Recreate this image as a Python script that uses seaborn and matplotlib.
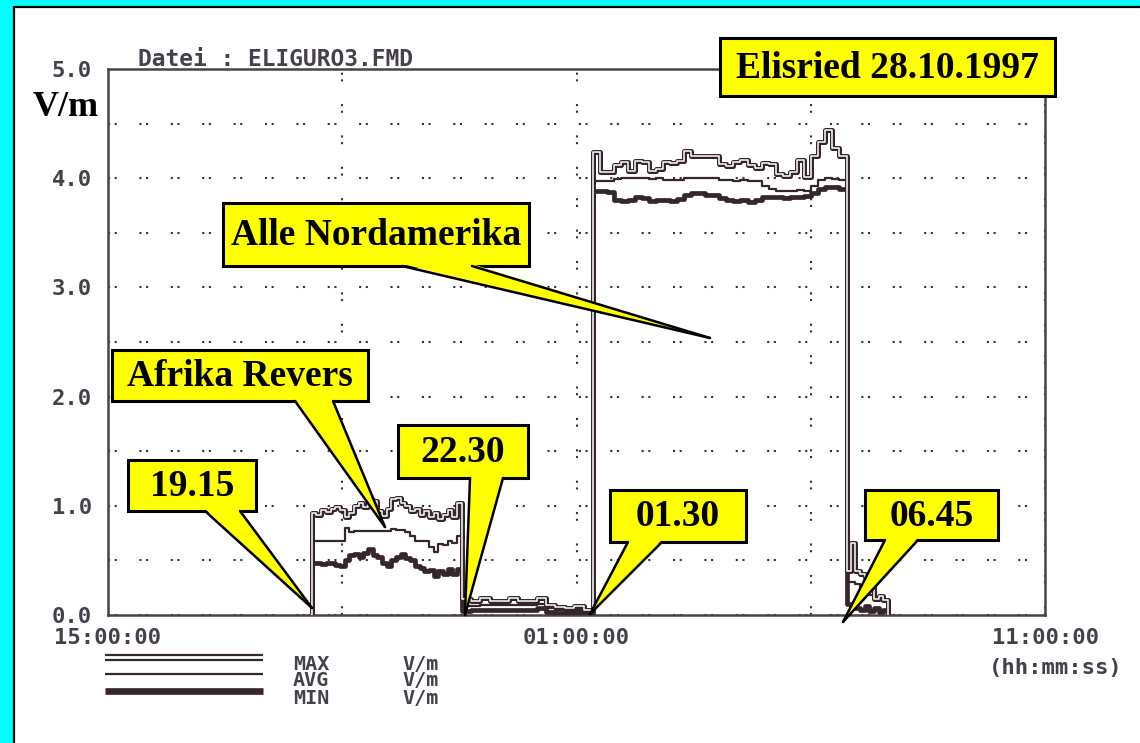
import numpy as np
import pandas as pd
import matplotlib
matplotlib.use("Agg")
import matplotlib.pyplot as plt
import matplotlib.patheffects as pe
from matplotlib.patches import Rectangle, Polygon
import seaborn as sns

# ---------------- data (hours after 15:00) ----------------
t_a = [4.35, 4.45, 4.55, 4.65, 4.75, 4.85, 4.95, 5.05, 5.15, 5.25, 5.35, 5.45, 5.55, 5.65, 5.75, 5.85,
       5.95, 6.05, 6.15, 6.25, 6.35, 6.45, 6.55, 6.65, 6.75, 6.85, 6.95, 7.05, 7.15, 7.25, 7.35, 7.45]
max_a = [0.93, 0.92, 0.96, 0.94, 0.97, 0.99, 0.96, 0.90, 0.93, 1.00, 1.03, 0.99, 1.05, 1.04, 0.95, 0.91,
         0.97, 1.06, 1.07, 1.03, 1.00, 0.95, 0.97, 0.92, 0.95, 0.90, 0.93, 0.88, 0.92, 0.96, 0.90, 1.03]
avg_a = [0.68, 0.68, 0.68, 0.68, 0.68, 0.68, 0.68, 0.80, 0.76, 0.77, 0.77, 0.77, 0.77, 0.77, 0.77, 0.77,
         0.77, 0.79, 0.78, 0.78, 0.76, 0.72, 0.68, 0.68, 0.68, 0.62, 0.58, 0.65, 0.64, 0.68, 0.66, 0.72]
min_a = [0.48, 0.48, 0.47, 0.48, 0.48, 0.46, 0.45, 0.50, 0.55, 0.56, 0.53, 0.57, 0.60, 0.55, 0.53, 0.48,
         0.45, 0.50, 0.53, 0.56, 0.52, 0.50, 0.45, 0.43, 0.40, 0.41, 0.36, 0.40, 0.38, 0.42, 0.38, 0.42]

t_b = [7.55, 7.75, 7.95, 8.15, 8.35, 8.55, 8.75, 8.95, 9.15, 9.35, 9.55, 9.75, 9.95, 10.15]
max_b = [0.15, 0.13, 0.16, 0.13, 0.13, 0.16, 0.13, 0.13, 0.16, 0.09, 0.07, 0.06, 0.08, 0.05]
avg_b = [0.08, 0.08, 0.09, 0.09, 0.09, 0.09, 0.09, 0.09, 0.10, 0.06, 0.05, 0.04, 0.05, 0.03]
min_b = [0.04, 0.05, 0.05, 0.05, 0.05, 0.05, 0.05, 0.05, 0.06, 0.03, 0.02, 0.02, 0.03, 0.01]

t_c = [10.35, 10.50, 10.65, 10.80, 10.95, 11.10, 11.25, 11.40, 11.55, 11.70, 11.85, 12.00,
       12.15, 12.30, 12.45, 12.60, 12.75, 12.90, 13.05, 13.20, 13.35, 13.50, 13.65, 13.80,
       13.95, 14.10, 14.25, 14.40, 14.55, 14.70, 14.85, 15.00, 15.15, 15.30, 15.45, 15.60]
max_c = [4.24, 4.06, 4.06, 4.12, 4.15, 4.07, 4.16, 4.15, 4.07, 4.08, 4.15, 4.14,
         4.16, 4.25, 4.20, 4.20, 4.20, 4.20, 4.13, 4.11, 4.15, 4.17, 4.12, 4.09,
         4.14, 4.13, 4.04, 4.02, 4.06, 4.17, 4.01, 4.20, 4.33, 4.44, 4.28, 4.20]
avg_c = [3.97, 3.97, 3.97, 3.99, 4.00, 4.00, 4.00, 4.00, 3.99, 4.00, 3.98, 3.98,
         3.98, 4.00, 4.00, 4.00, 4.00, 4.00, 3.98, 3.98, 3.97, 3.98, 3.97, 3.97,
         3.93, 3.90, 3.88, 3.88, 3.88, 3.89, 3.88, 3.93, 3.98, 4.00, 3.99, 3.98]
min_c = [3.88, 3.88, 3.87, 3.80, 3.79, 3.80, 3.83, 3.82, 3.79, 3.80, 3.80, 3.79,
         3.81, 3.85, 3.86, 3.86, 3.85, 3.85, 3.82, 3.80, 3.79, 3.80, 3.78, 3.80,
         3.83, 3.83, 3.83, 3.82, 3.83, 3.83, 3.84, 3.86, 3.90, 3.92, 3.92, 3.90]

t_d = [15.77, 15.85, 15.95, 16.05, 16.15, 16.25, 16.35, 16.45, 16.55]
max_d = [0.40, 0.66, 0.40, 0.38, 0.35, 0.38, 0.15, 0.17, 0.14]
avg_d = [0.30, 0.30, 0.28, 0.25, 0.22, 0.18, 0.15, 0.16, 0.14]
min_d = [0.10, 0.08, 0.06, 0.05, 0.08, 0.04, 0.06, 0.03, 0.05]

t_start, t_end = 4.33, 16.65

x_tick_pos = [0, 10, 20]
x_tick_labels = ["15:00:00", "01:00:00", "11:00:00"]
y_tick_pos = [0, 1, 2, 3, 4, 5]
y_tick_labels = ["0.0", "1.0", "2.0", "3.0", "4.0", "5.0"]

df = pd.DataFrame({
    "time": [t_start] + t_a + t_b + t_c + t_d + [t_end],
    "MAX": [0] + max_a + max_b + max_c + max_d + [0],
    "AVG": [0] + avg_a + avg_b + avg_c + avg_d + [0],
    "MIN": [0] + min_a + min_b + min_c + min_d + [0],
})

# ---------------- style ----------------
sns.set_style("white")
plt.rcParams["lines.scale_dashes"] = False
plt.rcParams["font.family"] = ["DejaVu Sans Mono", "DejaVu Sans"]

W, H = 1140, 743
fig = plt.figure(figsize=(W / 100, H / 100), dpi=100)
fig.patch.set_facecolor("#00ffff")

# white page
fig.patches.append(Rectangle((15 / W, 0), 1, (H - 8) / H, transform=fig.transFigure,
                             facecolor="white", edgecolor="none", zorder=-2))

dark = "#35262b"
gray = "#45404a"

L, R, T, B = 108, 1045, 69, 615
ax = fig.add_axes([L / W, (H - B) / H, (R - L) / W, (B - T) / H])
ax.set_facecolor("white")

sns.lineplot(data=df, x="time", y="MIN", ax=ax, estimator=None, drawstyle="steps-post",
             color=dark, lw=3.4, zorder=3)
sns.lineplot(data=df, x="time", y="AVG", ax=ax, estimator=None, drawstyle="steps-post",
             color=dark, lw=1.6, zorder=4)
sns.lineplot(data=df, x="time", y="MAX", ax=ax, estimator=None, drawstyle="steps-post",
             color="white", lw=1.1, zorder=5,
             path_effects=[pe.Stroke(linewidth=3.6, foreground=dark), pe.Normal()])

ax.set_xlim(0, 20)
ax.set_ylim(0, 5)
ax.set_xticks(x_tick_pos)
ax.set_xticklabels(x_tick_labels)
ax.set_xticks([5, 15], minor=True)
ax.set_yticks(y_tick_pos)
ax.set_yticklabels(y_tick_labels)
ax.set_yticks([0.5, 1.5, 2.5, 3.5, 4.5], minor=True)
ax.tick_params(which="both", length=0)
ax.tick_params(axis="y", pad=11.5, labelsize=16, labelcolor=gray)
ax.tick_params(axis="x", pad=9.5, labelsize=16, labelcolor=gray)
for lab in ax.get_xticklabels() + ax.get_yticklabels():
    lab.set_fontweight("bold")
ax.set_xlabel("")
ax.set_ylabel("")
dots = (0, (1.5, 3.3, 1.5, 16.3))
ax.grid(True, which="both", axis="both", linestyle=dots, color="#333333", lw=1.5, zorder=1)
for s in ax.spines.values():
    s.set_visible(True)
    s.set_color("#4a4248")
    s.set_linewidth(1.8)

# ---------------- overlay (pixel coordinates) ----------------
ov = fig.add_axes([0, 0, 1, 1], zorder=10)
ov.set_xlim(0, W)
ov.set_ylim(H, 0)
ov.axis("off")
ov.patch.set_alpha(0)

ov.plot([14, 14], [7, H], color="black", lw=1.6)
ov.plot([14, W], [7, 7], color="black", lw=1.6)

ov.text(138, 60, "Datei : ELIGURO3.FMD", ha="left", va="center", fontsize=16.5,
        fontweight="bold", color=gray)
ov.text(66, 108, "V/m", ha="center", va="center", fontsize=26, fontweight="bold",
        family="Liberation Serif", color="black")
ov.text(1056, 668, "(hh:mm:ss)", ha="center", va="center", fontsize=16,
        fontweight="bold", color=gray)

# legend
ov.plot([105, 263], [655, 655], color=dark, lw=1.6, solid_capstyle="butt")
ov.plot([105, 263], [660, 660], color=dark, lw=1.6, solid_capstyle="butt")
ov.plot([105, 263], [674, 674], color=dark, lw=1.6, solid_capstyle="butt")
ov.plot([105, 263], [691, 691], color=dark, lw=4.8, solid_capstyle="butt")
for yy, nm in zip([664, 681, 698], ["MAX", "AVG", "MIN"]):
    ov.text(293, yy, nm, ha="left", va="center", fontsize=14.5, fontweight="bold", color=gray)
    ov.text(402, yy, "V/m", ha="left", va="center", fontsize=14.5, fontweight="bold", color=gray)


def callout(rect, text, base=None, tip=None):
    x0, y0, x1, y1 = rect
    ov.add_patch(Rectangle((x0, y0), x1 - x0, y1 - y0, facecolor="#ffff00",
                           edgecolor="black", lw=2.2, zorder=2))
    if base is not None:
        bx0, bx1 = base
        ov.add_patch(Polygon([(bx0, y1 - 2), (bx1, y1 - 2), tip], closed=True,
                             facecolor="#ffff00", edgecolor="none", zorder=3))
        ov.plot([bx0, tip[0]], [y1, tip[1]], color="black", lw=1.8, zorder=4)
        ov.plot([bx1, tip[0]], [y1, tip[1]], color="black", lw=1.8, zorder=4)
    ov.text((x0 + x1) / 2, (y0 + y1) / 2 + 1, text, ha="center", va="center", fontsize=27,
            fontweight="bold", family="Liberation Serif", color="black", zorder=5)


callout((720, 38, 1055, 96), "Elisried 28.10.1997")
callout((223, 203, 529, 266), "Alle Nordamerika", (402, 472), (710, 338))
callout((112, 350, 368, 401), "Afrika Revers", (295, 333), (385, 527))
callout((128, 460, 256, 511), "19.15", (205, 240), (312, 608))
callout((398, 425, 528, 478), "22.30", (470, 503), (465, 615))
callout((610, 490, 746, 542), "01.30", (628, 662), (590, 614))
callout((865, 490, 998, 540), "06.45", (885, 918), (843, 622))

fig.savefig("out.png", dpi=100, facecolor=fig.get_facecolor())
